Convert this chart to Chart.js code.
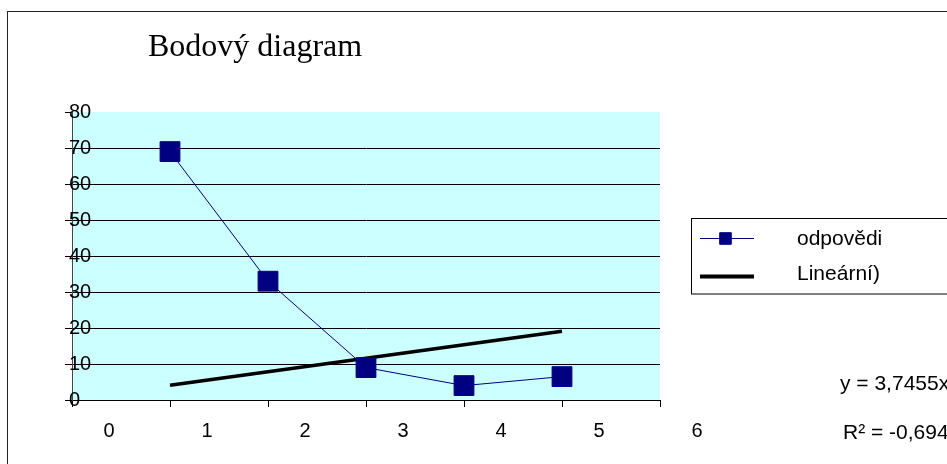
<!DOCTYPE html>
<html><head><meta charset="utf-8">
<script src="https://cdn.jsdelivr.net/npm/chart.js@4/dist/chart.umd.min.js"></script>
<style>html,body{margin:0;padding:0;background:#fff;overflow:hidden}canvas{display:block}</style>
</head><body>
<canvas id="c" width="947" height="464"></canvas>
<script>
const chartTitle = 'Bodový diagram';
const seriesName = 'odpovědi';
const trendName = 'Lineární)';
const xValues = [1, 2, 3, 4, 5];
const answers = [69, 33, 9, 4, 6.5];
const trendX = [1, 5];
const trendY = [4.1, 19.1];
const xTicks = [0, 1, 2, 3, 4, 5, 6];
const yTicks = [0, 10, 20, 30, 40, 50, 60, 70, 80];
const equationLines = ['y = 3,7455x', 'R\u00B2 = -0,694'];

const NAVY = '#000080';
const SANS = '"Liberation Sans", Arial, sans-serif';

const decor = {
  id: 'decor',
  beforeDraw(chart) {
    const ctx = chart.ctx, a = chart.chartArea;
    ctx.save();
    ctx.fillStyle = '#fff';
    ctx.fillRect(0, 0, chart.width, chart.height);
    ctx.strokeStyle = '#222';
    ctx.lineWidth = 1;
    ctx.strokeRect(7.5, 11.5, 2000, 2000);
    ctx.fillStyle = '#CCFFFF';
    ctx.fillRect(a.left, a.top, a.right - a.left, a.bottom - a.top);
    ctx.fillStyle = '#000';
    ctx.font = '32px "Liberation Serif", "Times New Roman", serif';
    ctx.textBaseline = 'alphabetic';
    ctx.textAlign = 'left';
    ctx.fillText(chartTitle, 148, 56);
    ctx.restore();
  },
  afterDraw(chart) {
    const ctx = chart.ctx;
    const ds0 = chart.data.datasets[0], ds1 = chart.data.datasets[1];
    ctx.save();
    ctx.strokeStyle = '#000';
    ctx.lineWidth = 1;
    ctx.strokeRect(691.5, 218.5, 400, 75.5);
    ctx.strokeStyle = ds0.borderColor;
    ctx.lineWidth = ds0.borderWidth;
    ctx.beginPath(); ctx.moveTo(700, 238.5); ctx.lineTo(754, 238.5); ctx.stroke();
    ctx.fillStyle = ds0.pointBackgroundColor;
    ctx.strokeStyle = ds0.pointBorderColor;
    Chart.helpers.drawPoint(ctx, {pointStyle: 'rect', radius: 8.2, rotation: 0, borderWidth: 1}, 725.5, 238.5);
    ctx.strokeStyle = ds1.borderColor;
    ctx.lineWidth = 4;
    ctx.beginPath(); ctx.moveTo(700, 276.5); ctx.lineTo(754, 276.5); ctx.stroke();
    ctx.fillStyle = '#000';
    ctx.font = '21px ' + SANS;
    ctx.textBaseline = 'middle';
    ctx.textAlign = 'left';
    ctx.fillText(ds0.label, 797, 239);
    ctx.fillText(ds1.label, 797, 274);
    ctx.fillText(equationLines[0], 840, 384);
    ctx.fillText(equationLines[1], 843, 433);
    ctx.restore();
  }
};

new Chart(document.getElementById('c'), {
  type: 'scatter',
  data: {
    datasets: [
      {
        label: seriesName,
        data: xValues.map((x, i) => ({x: x, y: answers[i]})),
        showLine: true,
        borderColor: NAVY,
        borderWidth: 1,
        pointStyle: 'rect',
        pointRadius: 14,
        pointHoverRadius: 14,
        pointBackgroundColor: NAVY,
        pointBorderColor: NAVY,
        pointBorderWidth: 1,
        order: 1
      },
      {
        label: trendName,
        data: trendX.map((x, i) => ({x: x, y: trendY[i]})),
        showLine: true,
        borderColor: '#000',
        borderWidth: 3.5,
        pointRadius: 0,
        pointHoverRadius: 0,
        order: 2
      }
    ]
  },
  options: {
    responsive: false,
    animation: false,
    events: [],
    layout: {padding: {top: 112, right: 287, bottom: 0, left: 0}},
    plugins: {legend: {display: false}, title: {display: false}, tooltip: {enabled: false}},
    scales: {
      x: {
        type: 'linear', min: 0, max: 6,
        afterBuildTicks: s => { s.ticks = xTicks.map(v => ({value: v})); },
        afterFit: s => { s.height = 64; },
        ticks: {labelOffset: 37, padding: 12, color: '#000', font: {family: SANS, size: 20}, maxRotation: 0, autoSkip: false},
        grid: {drawOnChartArea: false, drawTicks: true, tickLength: 7, tickColor: '#000', color: '#000'},
        border: {color: '#000', width: 1}
      },
      y: {
        type: 'linear', min: 0, max: 80,
        afterBuildTicks: s => { s.ticks = yTicks.map(v => ({value: v})); },
        afterFit: s => { s.width = 72; },
        ticks: {mirror: true, padding: -3, color: '#000', font: {family: SANS, size: 20}, autoSkip: false},
        grid: {
          color: c => (c.tick && c.tick.value === 80) ? 'rgba(0,0,0,0)' : '#000',
          tickColor: '#000', tickLength: 7, drawTicks: true, lineWidth: 1
        },
        border: {color: '#444', width: 1}
      }
    }
  },
  plugins: [decor]
});
</script>
</body></html>
